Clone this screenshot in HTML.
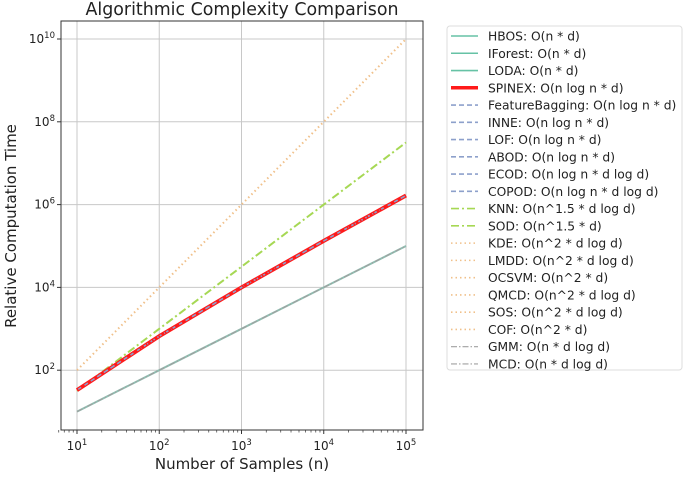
<!DOCTYPE html>
<html><head><meta charset="utf-8"><style>
body{margin:0;background:#fff;}
svg{font-family:"DejaVu Sans","Liberation Sans",sans-serif;}
</style></head><body>
<svg id="chart" width="685" height="474">
<rect width="685" height="474" fill="#fff"/>
<g id="grid"></g>
<g id="series"></g>
<rect x="61" y="21" width="362" height="409" fill="none" stroke="#333" stroke-width="1"/>
<g id="axes"></g>
<text x="242" y="15" text-anchor="middle" font-size="17.4" fill="#222">Algorithmic Complexity Comparison</text>
<text x="242" y="469" text-anchor="middle" font-size="15" fill="#222">Number of Samples (n)</text>
<text transform="translate(16,226) rotate(-90)" text-anchor="middle" font-size="15" fill="#222">Relative Computation Time</text>
<rect x="447" y="26" width="235" height="344" rx="3" fill="#fff" stroke="#ddd"/>
<g id="legend"></g>
</svg>
<script>
const nValues=[10,100,1000,10000,100000];
const linearVals=[10,100,1000,10000,100000];
const nlognVals=[33,664,9966,132900,1661000];
const n15Vals=[31.6,1000,31600,1000000,31600000];
const n2Vals=[100,10000,1000000,100000000,10000000000];
const xTickExp=[1,2,3,4,5];
const yTickExp=[2,4,6,8,10];
const legendLabels=["HBOS: O(n * d)","IForest: O(n * d)","LODA: O(n * d)","SPINEX: O(n log n * d)","FeatureBagging: O(n log n * d)","INNE: O(n log n * d)","LOF: O(n log n * d)","ABOD: O(n log n * d)","ECOD: O(n log n * d log d)","COPOD: O(n log n * d log d)","KNN: O(n^1.5 * d log d)","SOD: O(n^1.5 * d)","KDE: O(n^2 * d log d)","LMDD: O(n^2 * d log d)","OCSVM: O(n^2 * d)","QMCD: O(n^2 * d log d)","SOS: O(n^2 * d log d)","COF: O(n^2 * d)","GMM: O(n * d log d)","MCD: O(n * d log d)"];
const legendStyles=["lin","lin","lin","spx","nl","nl","nl","nl","nl","nl","n15","n15","n2","n2","n2","n2","n2","n2","gm","gm"];
const NS="http://www.w3.org/2000/svg";
const X=n=>77+(Math.log10(n)-1)*82.25;
const Y=v=>39+(10-Math.log10(v))*41.4;
const styles={
 lin:{stroke:"#8fbfb2",w:2,dash:""},
 spx:{stroke:"#ff1a1a",w:4,dash:""},
 nl:{stroke:"#8da0cb",w:1.6,dash:"5,3"},
 n15:{stroke:"#a6d854",w:2,dash:"8,3,2,3"},
 n2:{stroke:"#f0c08a",w:2,dash:"1.5,3"},
 gm:{stroke:"#a0a0a0",w:1.2,dash:"6,2,1.5,2"}
};
function el(t,a,p){const e=document.createElementNS(NS,t);for(const k in a)e.setAttribute(k,a[k]);p.appendChild(e);return e;}
const grid=document.getElementById('grid'),axes=document.getElementById('axes'),ser=document.getElementById('series'),leg=document.getElementById('legend');
xTickExp.forEach(e=>{const x=X(Math.pow(10,e));
 const g=el('line',{x1:x,x2:x,y1:21,y2:430,stroke:'#c8c8c8','stroke-width':1},grid);
 
 
 el('line',{x1:x,x2:x,y1:430,y2:434,stroke:'#333'},axes);
 const t=el('text',{x:x,y:450,'text-anchor':'middle','font-size':12,fill:'#222'},axes);
 
 
 t.innerHTML='10<tspan dy="-5" font-size="8.5">'+e+'</tspan>';
 if(e<5)for(let m=2;m<10;m++){const xm=X(m*Math.pow(10,e));el('line',{x1:xm,x2:xm,y1:430,y2:432.5,stroke:'#333','stroke-width':0.7},axes);}
});
for(let m=6;m<10;m++){const xm=X(m);el('line',{x1:xm,x2:xm,y1:430,y2:432.5,stroke:'#333','stroke-width':0.7},axes);}
yTickExp.forEach(e=>{const y=Y(Math.pow(10,e));
 const g=el('line',{x1:61,x2:423,y1:y,y2:y,stroke:'#c8c8c8','stroke-width':1},grid);
 
 
 el('line',{x1:57,x2:61,y1:y,y2:y,stroke:'#333'},axes);
 const t=el('text',{x:55,y:y+4,'text-anchor':'end','font-size':12,fill:'#222'},axes);
 
 
 t.innerHTML='10<tspan dy="-5" font-size="8.5">'+e+'</tspan>';
});
function line(vals,st,name){
 const pts=nValues.map((n,i)=>X(n)+','+Y(vals[i])).join(' ');
 const p=el('polyline',{points:pts,fill:'none',stroke:st.stroke,'stroke-width':st.w,'stroke-dasharray':st.dash},ser);
 
 
}
line(linearVals,styles.lin,'linear-series');
line(linearVals,styles.gm,'gmm-series');
line(n2Vals,styles.n2,'quadratic-series');
line(n15Vals,styles.n15,'n15-series');
line(nlognVals,styles.spx,'spinex-series');
line(nlognVals,styles.nl,'nlogn-series');
line(nlognVals,{stroke:'#ff1a1a',w:2,dash:'1.5,6'},'spinex-dots');
legendLabels.forEach((lab,i)=>{const y=36+i*17.26;const st=styles[legendStyles[i]];
 const g=el('g',{},leg);
 
 
 const c=legendStyles[i]=='lin'?'#66c2a5':st.stroke;
 el('line',{x1:451,x2:478,y1:y,y2:y,stroke:c,'stroke-width':legendStyles[i]=='spx'?3.5:Math.min(st.w,1.6),'stroke-dasharray':st.dash},g);
 const t=el('text',{x:488,y:y+4.5,'font-size':12.3,fill:'#222'},g);
 t.textContent=lab;
});
</script>
</body></html>
